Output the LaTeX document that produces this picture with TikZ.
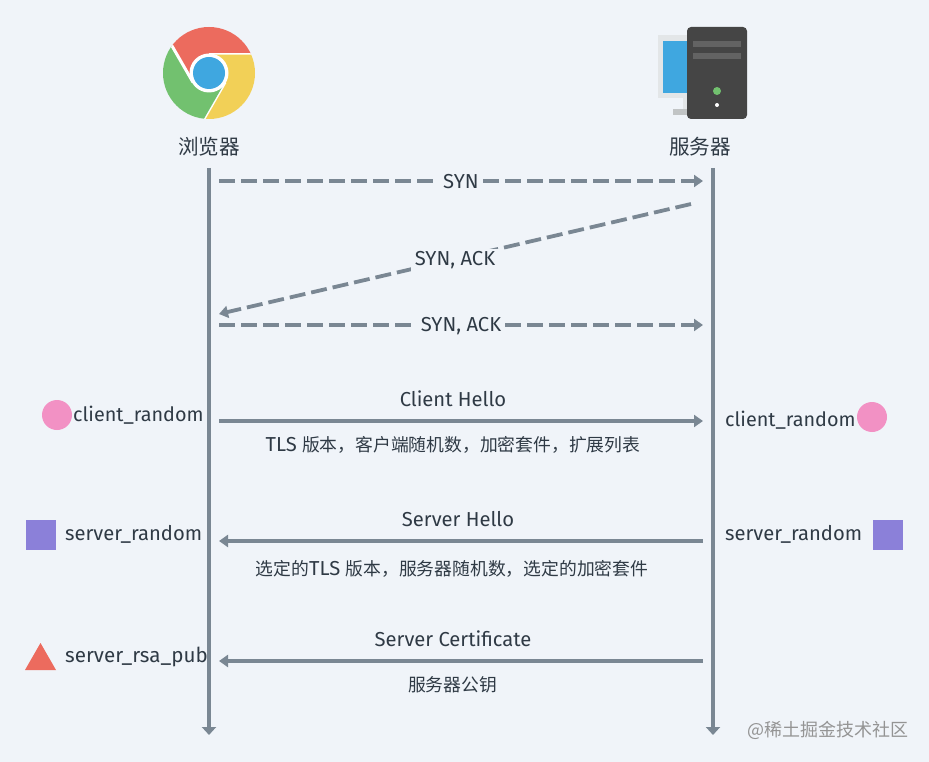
\documentclass[tikz,border=0pt]{standalone}
\usepackage{fontspec}
\setmainfont{Fira Sans}
\newfontfamily\cjk{Noto Sans CJK SC}
\usetikzlibrary{arrows.meta}

\definecolor{bgc}{HTML}{F0F4F9}
\definecolor{linec}{HTML}{7A8793}
\definecolor{textc}{HTML}{2F3A45}
\definecolor{redc}{HTML}{EC6B5E}
\definecolor{yellowc}{HTML}{F2D057}
\definecolor{greenc}{HTML}{72C16F}
\definecolor{bluec}{HTML}{3FA7E0}
\definecolor{pinkc}{HTML}{F291C4}
\definecolor{purplec}{HTML}{8B80D9}
\definecolor{towerc}{HTML}{454545}
\definecolor{stripec}{HTML}{636363}
\definecolor{framec}{HTML}{E3E6E8}

\newcommand{\cn}[1]{{\cjk\fontsize{17.8}{18}\selectfont #1}}

\tikzset{
        life/.style={draw=linec, line width=4.4pt, -{Triangle[length=8pt,width=14pt]}},
        msg/.style={draw=linec, line width=3.8pt, -{Triangle[length=9pt,width=12pt]}},
        dashmsg/.style={msg, dash pattern=on 16pt off 6pt},
        txt/.style={text=textc, font=\fontsize{20.2}{22}\selectfont, inner sep=0pt},
        key/.style={txt, anchor=west, font=\fontsize{19.8}{22}\selectfont},
        cut/.style={txt, fill=bgc, inner xsep=4pt, inner ysep=3pt},
        title/.style={text=textc, font=\fontsize{20.6}{22}\cjk, inner sep=0pt}
}

\begin{document}
\begin{tikzpicture}[x=1pt, y=-1pt]
        \fill[bgc] (0,0) rectangle (929,762);
        \useasboundingbox (0,0) rectangle (929,762);

        % browser logo
        \coordinate (B) at (209,73);
        \begin{scope}
                \clip (B) circle (46);
                \foreach \col/\ang in {redc/0, yellowc/-120, greenc/-240} {
                        \begin{scope}[rotate around={\ang:(B)}]
                                \fill[\col] (209,54.5) -- (309,54.5) -- (309,-30) -- (143,-4.35) -- (193,82.25) -- (209,73) -- cycle;
                                \draw[white, line width=3pt] (209,54.5) -- (309,54.5);
                        \end{scope}
                }
        \end{scope}
        \fill[white] (B) circle (19.5);
        \fill[bluec] (B) circle (16);

        % server icon
        \fill[framec] (658,35) rectangle (690,98);
        \fill[bluec] (663,41) rectangle (690,93);
        \fill[framec] (683,98) rectangle (690,110);
        \fill[framec!85!black] (673,109) rectangle (690,115);
        \fill[towerc, rounded corners=4pt] (687,27) rectangle (747,119);
        \fill[stripec] (693,41) rectangle (741,47);
        \fill[stripec] (693,53) rectangle (741,59);
        \fill[greenc] (717,91) circle (4);
        \fill[white] (717,105) circle (2);

        \node[title] (browser) at (209,147) {浏览器};
        \node[title] (server) at (700,147) {服务器};

        % life lines
        \coordinate (A1) at (209,168);
        \coordinate (A2) at (209,735);
        \coordinate (C1) at (713,168);
        \coordinate (C2) at (713,735);
        \draw[life] (A1) -- (A2);
        \draw[life] (C1) -- (C2);

        % handshake
        \coordinate (D1) at (219,181);
        \coordinate (E1) at (703,181);
        \coordinate (E2) at (691,204);
        \coordinate (D2) at (219,314);
        \coordinate (D3) at (219,325);
        \coordinate (E3) at (703,325);
        \draw[dashmsg] (D1) -- (E1);
        \draw[dashmsg] (E2) -- (D2);
        \draw[dashmsg] (D3) -- (E3);
        \node[cut] (syn) at (461,181.5) {SYN};
        \node[cut] (synack) at (455,260.5) {SYN, ACK};
        \node[cut] (ack) at (461,326.5) {SYN, ACK};

        % hello messages
        \coordinate (D4) at (219,421);
        \coordinate (E4) at (703,421);
        \coordinate (D5) at (219,541);
        \coordinate (E5) at (703,541);
        \coordinate (D6) at (219,661);
        \coordinate (E6) at (703,661);
        \draw[msg] (D4) -- (E4);
        \draw[msg] (E5) -- (D5);
        \draw[msg] (E6) -- (D6);

        \node[txt] (chello) at (453,399) {Client Hello};
        \node[txt] (cnote) at (453,445) {TLS \cn{版本，客户端随机数，加密套件，扩展列表}};
        \node[txt] (shello) at (458,519) {Server Hello};
        \node[txt] (snote) at (452,569) {\cn{选定的}TLS \cn{版本，服务器随机数，选定的加密套件}};
        \node[txt] (scert) at (453,639) {Server Certificate};
        \node[txt] (pnote) at (452.5,685) {\cn{服务器公钥}};

        % keys on the left
        \fill[pinkc] (57,415) circle (15);
        \fill[purplec] (26,520) rectangle (56,550);
        \fill[redc] (40.5,643) -- (56,670) -- (25,670) -- cycle;
        \node[key] (lrand) at (73,415) {client\_random};
        \node[key, font=\fontsize{20.2}{22}\selectfont] (lsrv) at (65,534) {server\_random};
        \node[key, font=\fontsize{20.6}{22}\selectfont] (lpub) at (65,656.5) {server\_rsa\_pub};

        % keys on the right
        \fill[pinkc] (872,417) circle (15);
        \fill[purplec] (873,520) rectangle (903,550);
        \node[key] (rrand) at (725,420) {client\_random};
        \node[key, font=\fontsize{20.2}{22}\selectfont] (rsrv) at (725,534) {server\_random};

        \node[text=black!42, inner sep=0pt, font=\fontsize{18}{20}\cjk] (mark) at (828,730) {@稀土掘金技术社区};
\end{tikzpicture}
\end{document}
